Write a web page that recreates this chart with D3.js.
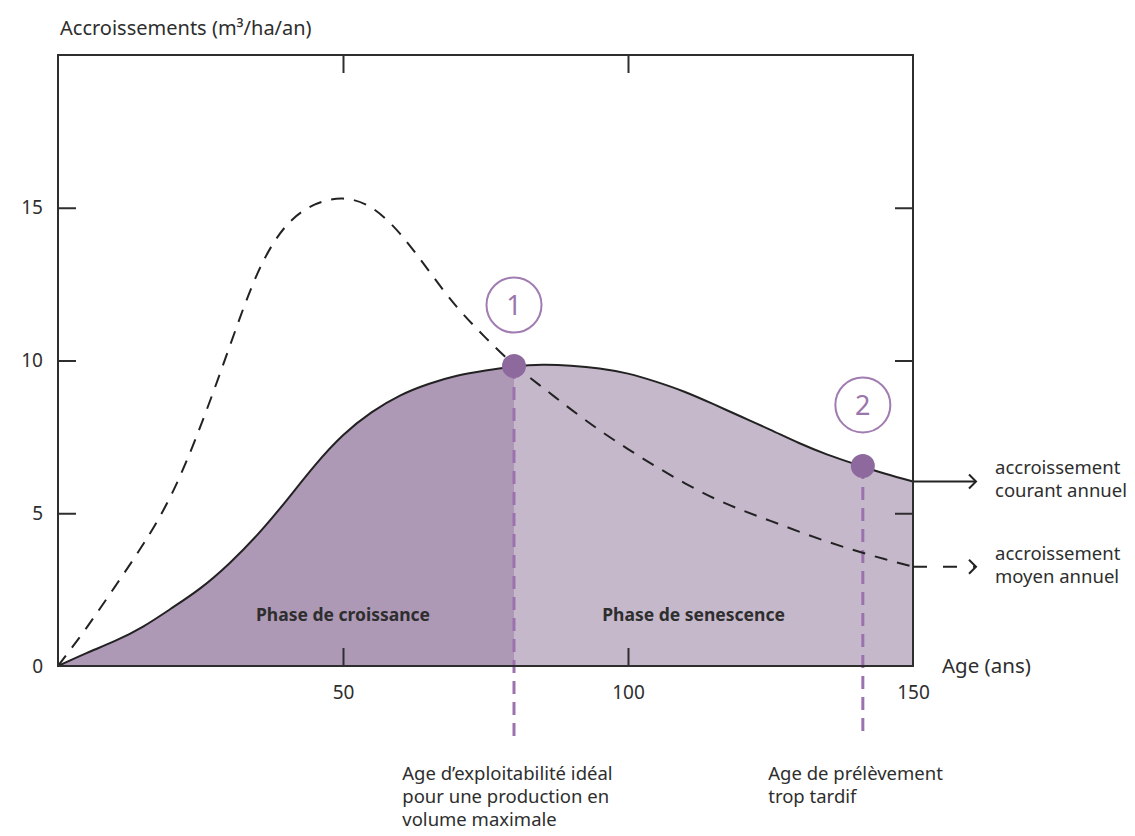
<!DOCTYPE html>
<html><head><meta charset="utf-8">
<script src="https://cdn.jsdelivr.net/npm/d3@7"></script>
<style>
html,body{margin:0;padding:0;background:#fff;}
svg{display:block;font-family:"Noto Sans",sans-serif;}
</style></head>
<body>
<svg id="chart" width="1135" height="836"></svg>
<script>
// ---- data ----
const ages = [0,5,10,15,20,25,30,35,40,45,50,55,60,65,70,75,80,85,90,95,100,105,110,115,120,125,130,135,140,145,150];
const courantAnnuel = [0,0.42,0.82,1.3,1.9,2.55,3.35,4.3,5.4,6.55,7.55,8.3,8.85,9.23,9.5,9.67,9.8,9.86,9.83,9.74,9.57,9.3,8.97,8.57,8.15,7.73,7.3,6.92,6.6,6.3,6.04];
const moyenAnnuel = [0,1.25,2.6,4.0,5.65,7.85,10.4,12.85,14.4,15.1,15.3,15.0,14.15,12.95,11.75,10.75,9.86,9.12,8.4,7.72,7.1,6.52,5.98,5.5,5.1,4.75,4.4,4.07,3.77,3.5,3.25];
const xTicks = [50,100,150];
const yTicks = [0,5,10,15];
const phaseSplitAge = 80;
const phaseLabels = [{label:"Phase de croissance", age:50}, {label:"Phase de senescence", age:111.5}];
const markerAges = [80, 141.2];
const markerValues = [9.82, 6.55];
const markerNumbers = ["1","2"];
const markerNotes = [
  ["Age d\u2019exploitabilit\u00e9 id\u00e9al","pour une production en","volume maximale"],
  ["Age de pr\u00e9l\u00e8vement","trop tardif"]
];
const markerNoteAges = [60.4, 124.6];
const legendLines = [["accroissement","courant annuel"],["accroissement","moyen annuel"]];
const yTitle = "Accroissements (m\u00b3/ha/an)";
const xTitle = "Age (ans)";

// ---- scales ----
const svg = d3.select("#chart");
const x = d3.scaleLinear().domain([0,150]).range([58,913]);
const y = d3.scaleLinear().domain([0,20]).range([666,55]);
const ink = "#2e2e2e";
const font = "'Noto Sans', sans-serif";
const courant = ages.map((a,i)=>({a, v:courantAnnuel[i]}));
const moyen = ages.map((a,i)=>({a, v:moyenAnnuel[i]}));
const curve = d3.curveNatural;

// clip for dark phase
const defs = svg.append("defs");
defs.append("clipPath").attr("id","growth").append("rect")
  .attr("x", x(0)).attr("y", y(20)).attr("width", x(phaseSplitAge)-x(0)).attr("height", y(0)-y(20));

const area = d3.area().x(d=>x(d.a)).y0(y(0)).y1(d=>y(d.v)).curve(curve);
svg.append("path").datum(courant).attr("d", area).attr("fill","#c5b8cb");
svg.append("path").datum(courant).attr("d", area).attr("fill","#ad98b5").attr("clip-path","url(#growth)");

// phase labels
svg.selectAll(".phase").data(phaseLabels).join("text")
  .attr("x", d=>x(d.age)).attr("y", 621).attr("text-anchor","middle")
  .attr("font-size", 17.5).attr("font-weight", 700).attr("fill", ink).text(d=>d.label);

// purple dashed verticals
markerAges.forEach((a,i)=>{
  svg.append("line").attr("x1",x(a)).attr("x2",x(a)).attr("y1",y(markerValues[i])).attr("y2",736)
    .attr("stroke","#9b72ad").attr("stroke-width",3).attr("stroke-dasharray","13,8");
});

// curves
const line = d3.line().x(d=>x(d.a)).y(d=>y(d.v)).curve(curve);
svg.append("path").datum(moyen).attr("d", line).attr("fill","none").attr("stroke","#222")
  .attr("stroke-width",2).attr("stroke-dasharray","13,10");
svg.append("path").datum(courant).attr("d", line).attr("fill","none").attr("stroke","#222").attr("stroke-width",2);

// frame
svg.append("rect").attr("x",x(0)).attr("y",y(20)).attr("width",x(150)-x(0)).attr("height",y(0)-y(20))
  .attr("fill","none").attr("stroke",ink).attr("stroke-width",2);

// axes
function styleAxis(g){ g.select(".domain").remove(); g.selectAll("line").attr("stroke",ink).attr("stroke-width",2);
  g.selectAll("text").attr("fill",ink).attr("font-size",19).attr("font-family",font); }
svg.append("g").attr("transform",`translate(${x(0)},0)`)
  .call(d3.axisLeft(y).tickValues(yTicks).tickSize(-18).tickPadding(15)).call(styleAxis)
  .selectAll(".tick").filter(d=>d===0).select("line").remove();
svg.append("g").attr("transform",`translate(${x(150)},0)`)
  .call(d3.axisRight(y).tickValues(yTicks.filter(v=>v>0)).tickSize(-18).tickFormat("")).call(styleAxis);
svg.append("g").attr("transform",`translate(0,${y(0)})`)
  .call(d3.axisBottom(x).tickValues(xTicks).tickSize(-18).tickPadding(20)).call(styleAxis)
  .selectAll(".tick").filter(d=>d===150).select("line").remove();
svg.append("g").attr("transform",`translate(0,${y(20)})`)
  .call(d3.axisTop(x).tickValues(xTicks.filter(v=>v<150)).tickSize(-18).tickFormat("")).call(styleAxis);

// titles
svg.append("text").attr("x",60).attr("y",35).attr("font-size",20).attr("fill",ink).text(yTitle);
svg.append("text").attr("x",x(150)+29).attr("y",673).attr("font-size",20.5).attr("fill",ink).text(xTitle);

// markers
markerAges.forEach((a,i)=>{
  const cx = x(a), cy = y(markerValues[i]);
  svg.append("circle").attr("cx",cx).attr("cy",cy).attr("r",12).attr("fill","#8d699d");
  svg.append("circle").attr("cx",cx).attr("cy",cy-61).attr("r",27.5).attr("fill","none")
    .attr("stroke","#a07cb1").attr("stroke-width",2);
  svg.append("text").attr("x",cx).attr("y",cy-61).attr("dy","0.36em").attr("text-anchor","middle")
    .attr("font-size",27).attr("fill","#9a76ab").text(markerNumbers[i]);
  const t = svg.append("text").attr("x",x(markerNoteAges[i])).attr("y",780).attr("font-size",18.5).attr("fill",ink);
  markerNotes[i].forEach((s,j)=>t.append("tspan").attr("x",x(markerNoteAges[i])).attr("y",780+j*23).text(s));
});

// legend arrows
const ends = [courantAnnuel[courantAnnuel.length-1], moyenAnnuel[moyenAnnuel.length-1]];
ends.forEach((v,i)=>{
  const yy = y(v), x0 = x(150), x1 = x(150)+63;
  svg.append("line").attr("x1",x0).attr("x2",x1).attr("y1",yy).attr("y2",yy).attr("stroke","#222")
    .attr("stroke-width",2).attr("stroke-dasharray", i===1 ? "14,16" : null);
  svg.append("path").attr("d",`M${x1-7},${yy-7}L${x1},${yy}L${x1-7},${yy+7}`).attr("fill","none")
    .attr("stroke","#222").attr("stroke-width",2);
  const t = svg.append("text").attr("font-size",18.5).attr("fill",ink);
  legendLines[i].forEach((s,j)=>t.append("tspan").attr("x",995).attr("y",yy-7+j*23).text(s));
});
</script>
</body></html>
